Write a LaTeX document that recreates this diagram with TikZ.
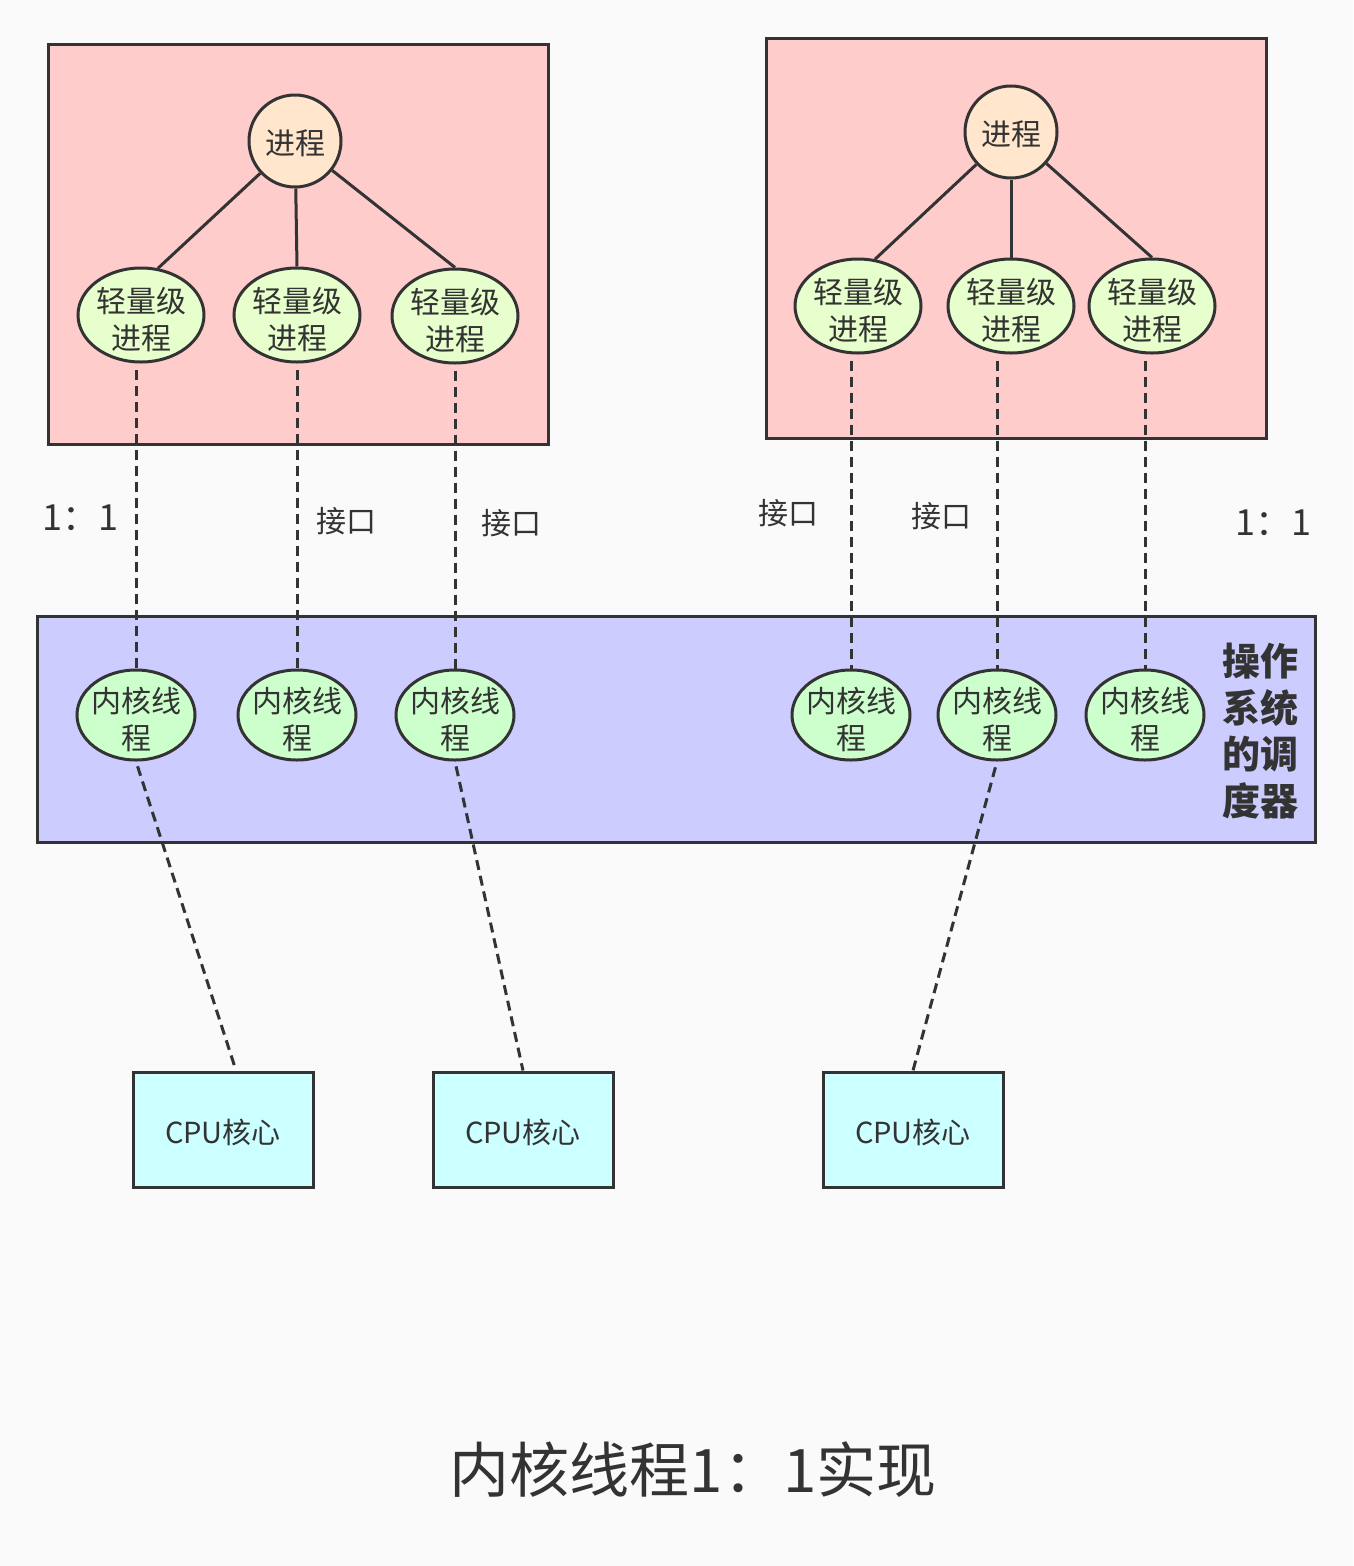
\documentclass[tikz,border=0pt]{standalone}
\usepackage{fontspec}
\setmainfont{Noto Sans CJK SC}
\usetikzlibrary{shapes.geometric}
\definecolor{bg}{HTML}{FAFAFA}
\definecolor{ln}{HTML}{333333}
\definecolor{pinkbox}{HTML}{FFCCCC}
\definecolor{procfill}{HTML}{FFE6CC}
\definecolor{lwpfill}{HTML}{E6FFCC}
\definecolor{kfill}{HTML}{CCFFCC}
\definecolor{osfill}{HTML}{CCCCFF}
\definecolor{cpufill}{HTML}{CCFFFF}
\newcommand\mystrut{\rule{0pt}{34pt}}
\begin{document}
\begin{tikzpicture}[x=1pt,y=-1pt,
  every node/.style={text=ln},
  base/.style={font=\fontsize{30}{37}\selectfont},
  rbox/.style={draw=ln, line width=3pt, rectangle, inner sep=0pt},
  procnode/.style={base, circle, draw=ln, line width=3pt, fill=procfill, minimum size=92pt, inner sep=0pt},
  lwpnode/.style={base, ellipse, draw=ln, line width=3pt, fill=lwpfill, minimum width=126pt, minimum height=94pt, inner sep=-30pt, align=center},
  knode/.style={base, ellipse, draw=ln, line width=3pt, fill=kfill, minimum width=118pt, minimum height=90pt, inner sep=-30pt, align=center},
  cpunode/.style={rbox, fill=cpufill, minimum width=180pt, minimum height=115pt, font=\fontsize{29}{35}\selectfont},
  solidln/.style={draw=ln, line width=3pt},
  dsh/.style={draw=ln, line width=3pt, dash pattern=on 10pt off 6pt},
  lbl/.style={base}
]
\fill[bg] (0,0) rectangle (1353,1566);
\useasboundingbox (0,0) rectangle (1353,1566);

% containers
\node[rbox, fill=pinkbox, minimum width=500pt, minimum height=400pt] (pb1) at (298,244) {};
\node[rbox, fill=pinkbox, minimum width=500pt, minimum height=400pt] (pb2) at (1016,238) {};
\node[rbox, fill=osfill, minimum width=1278pt, minimum height=226pt] (osb) at (676,729) {};

% processes
\node[procnode, text height=31pt, text depth=4pt] (p1) at (295,141) {进程};
\node[procnode, text height=31pt, text depth=4pt] (p2) at (1011,132) {进程};

% light-weight processes
\node[lwpnode] (l1) at (141,315) {\mystrut 轻量级\\进程};
\node[lwpnode] (l2) at (297,315) {\mystrut 轻量级\\进程};
\node[lwpnode] (l3) at (455,316) {\mystrut 轻量级\\进程};
\node[lwpnode] (r1) at (858,306) {\mystrut 轻量级\\进程};
\node[lwpnode] (r2) at (1011,306) {\mystrut 轻量级\\进程};
\node[lwpnode] (r3) at (1152,306) {\mystrut 轻量级\\进程};

% kernel threads
\node[knode] (k1) at (136,715) {\mystrut 内核线\\程};
\node[knode] (k2) at (297,715) {\mystrut 内核线\\程};
\node[knode] (k3) at (455,715) {\mystrut 内核线\\程};
\node[knode] (k4) at (851,715) {\mystrut 内核线\\程};
\node[knode] (k5) at (997,715) {\mystrut 内核线\\程};
\node[knode] (k6) at (1145,715) {\mystrut 内核线\\程};

% CPU cores
\node[cpunode, text height=31pt, text depth=4pt] (c1) at (223,1129.5) {CPU核心};
\node[cpunode, text height=31pt, text depth=4pt] (c2) at (523,1129.5) {CPU核心};
\node[cpunode, text height=31pt, text depth=4pt] (c3) at (913,1129.5) {CPU核心};

% process -> LWP
\draw[solidln] (p1) -- (l1.70);
\draw[solidln] (p1) -- (l2.north);
\draw[solidln] (p1) -- (l3.north);
\draw[solidln] (p2) -- (r1.70);
\draw[solidln] (p2) -- (r2.north);
\draw[solidln] (p2) -- (r3.north);

% LWP -> kernel thread
\draw[dsh, shorten <=6pt] (k1 |- l1.south) -- (k1.north);
\draw[dsh, shorten <=6pt] (k2 |- l2.south) -- (k2.north);
\draw[dsh, shorten <=6pt] (k3 |- l3.south) -- (k3.north);
\draw[dsh, shorten <=6pt] (k4 |- r1.south) -- (k4.north);
\draw[dsh, shorten <=6pt] (k5 |- r2.south) -- (k5.north);
\draw[dsh, shorten <=6pt] (k6 |- r3.south) -- (k6.north);

% kernel thread -> CPU
\draw[dsh, shorten <=5pt] (k1.south) -- ([xshift=13pt]c1.north);
\draw[dsh, shorten <=5pt] (k3.south) -- (c2.north);
\draw[dsh, shorten <=6pt] (k5.south) -- (c3.north);

% labels
\node[font=\fontsize{36}{40}\selectfont] (ratio1) at (80,518) {1：1};
\node[font=\fontsize{36}{40}\selectfont] (ratio2) at (1273,523) {1：1};
\node[lbl] (if1) at (346,521) {接口};
\node[lbl] (if2) at (511,523) {接口};
\node[lbl] (if3) at (788,513) {接口};
\node[lbl] (if4) at (941,516) {接口};
\node[font=\fontsize{38}{46.5}\selectfont\bfseries, align=center] (os) at (1260,731) {操作\\系统\\的调\\度器};
\node[font=\fontsize{60}{70}\selectfont] (title) at (693,1470) {内核线程1：1实现};
\end{tikzpicture}
\end{document}
